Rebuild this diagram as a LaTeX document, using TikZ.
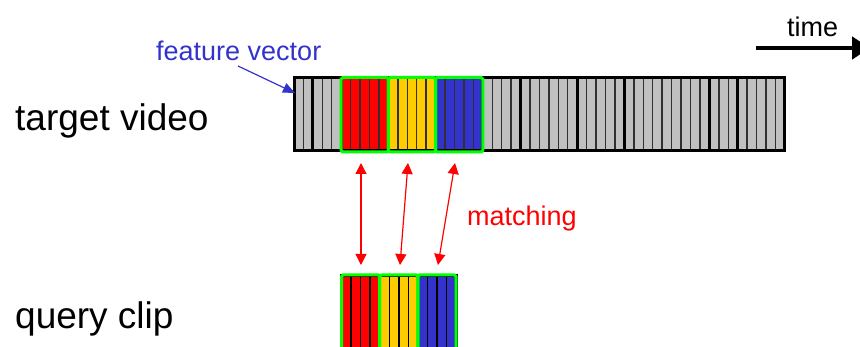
\documentclass[tikz,border=0pt]{standalone}
\usepackage{fontspec}
\setmainfont{Liberation Sans}
\usetikzlibrary{arrows.meta}

\definecolor{segred}{HTML}{FF0000}
\definecolor{segyellow}{HTML}{FFCC00}
\definecolor{segblue}{HTML}{3333CC}
\definecolor{framegrey}{HTML}{C0C0C0}
\definecolor{boxgreen}{HTML}{00FF00}
\definecolor{labelblue}{HTML}{3333CC}
\definecolor{stripeline}{HTML}{303030}

\tikzset{
  biglabel/.style={inner sep=0pt, anchor=base west, font=\fontsize{37}{44}\selectfont},
  smalllabel/.style={inner sep=0pt, anchor=base west, font=\fontsize{27}{32}\selectfont},
  stripesep/.style={draw=stripeline, line width=1.4pt},
  shotcut/.style={draw=black, line width=3pt},
  outerframe/.style={draw=black, line width=3pt},
  segframe/.style={draw=boxgreen, line width=3pt, rounded corners=1.5pt},
  matcharrow/.style={draw=segred, line width=1.2pt,
    {Triangle[length=11pt,width=11pt]}-{Triangle[length=11pt,width=11pt]}},
  timearrow/.style={draw=black, line width=4.5pt, -{Triangle[length=18pt,width=22pt]}},
  featarrow/.style={draw=labelblue, line width=1.2pt, -{Triangle[length=12pt,width=10pt]}},
}

\begin{document}
\begin{tikzpicture}[x=1pt,y=-1pt]
\useasboundingbox (0,0) rectangle (860,347);

% ---------- target video: 52 frames ----------
\def\tx{294}\def\tw{9.44}
\foreach \k in {0,...,51}{
  \ifnum\k<5 \def\cc{framegrey}\else
  \ifnum\k<10 \def\cc{segred}\else
  \ifnum\k<15 \def\cc{segyellow}\else
  \ifnum\k<20 \def\cc{segblue}\else
  \def\cc{framegrey}\fi\fi\fi\fi
  \fill[\cc] ({\tx+\k*\tw},78) rectangle ({\tx+(\k+1)*\tw},151);
}
\foreach \k in {1,...,51}{
  \draw[stripesep] ({\tx+\k*\tw},78) -- ({\tx+\k*\tw},151);
}
% shot boundaries
\foreach \k in {2,5,10,15,20,24,30,35,44,47}{
  \draw[shotcut] ({\tx+\k*\tw},78) -- ({\tx+\k*\tw},151);
}
\draw[outerframe] (\tx,78) rectangle ({\tx+52*\tw},151);
% matched segments
\foreach \k in {5,10,15}{
  \draw[segframe] ({\tx+\k*\tw},77.5) rectangle ({\tx+(\k+5)*\tw},152);
}

% ---------- query clip: 12 frames ----------
\def\qx{341.5}\def\qw{9.55}
\foreach \k in {0,...,11}{
  \ifnum\k<4 \def\cc{segred}\else
  \ifnum\k<8 \def\cc{segyellow}\else
  \def\cc{segblue}\fi\fi
  \fill[\cc] ({\qx+\k*\qw},276) rectangle ({\qx+(\k+1)*\qw},362);
}
\foreach \k in {1,...,11}{
  \draw[draw=black, line width=1.4pt] ({\qx+\k*\qw},276) -- ({\qx+\k*\qw},362);
}
\draw[outerframe] (\qx,276) rectangle ({\qx+12*\qw},362);
\foreach \k in {0,4,8}{
  \draw[segframe] ({\qx+\k*\qw},275) rectangle ({\qx+(\k+4)*\qw},362);
}

% ---------- labels ----------
\node[biglabel] (tv) at (15,131) {target video};
\node[biglabel] (qc) at (15,329) {query clip};
\node[smalllabel, text=labelblue] (fv) at (156,61) {feature vector};
\node[smalllabel, text=segred] (mt) at (467,226) {matching};
\node[smalllabel] (tm) at (787,37) {time};

% ---------- arrows ----------
\coordinate (featfrom) at (238,66);
\coordinate (featto) at (295,93);
\draw[featarrow] (featfrom) -- (featto);

\coordinate (timefrom) at (756,48);
\coordinate (timeto) at (870,48);
\draw[timearrow] (timefrom) -- (timeto);

\coordinate (t1) at (361,163); \coordinate (q1) at (361,265);
\coordinate (t2) at (408,163); \coordinate (q2) at (400,265);
\coordinate (t3) at (455,163); \coordinate (q3) at (438,265);
\draw[matcharrow] (t1) -- (q1);
\draw[matcharrow] (t2) -- (q2);
\draw[matcharrow] (t3) -- (q3);
\end{tikzpicture}
\end{document}
